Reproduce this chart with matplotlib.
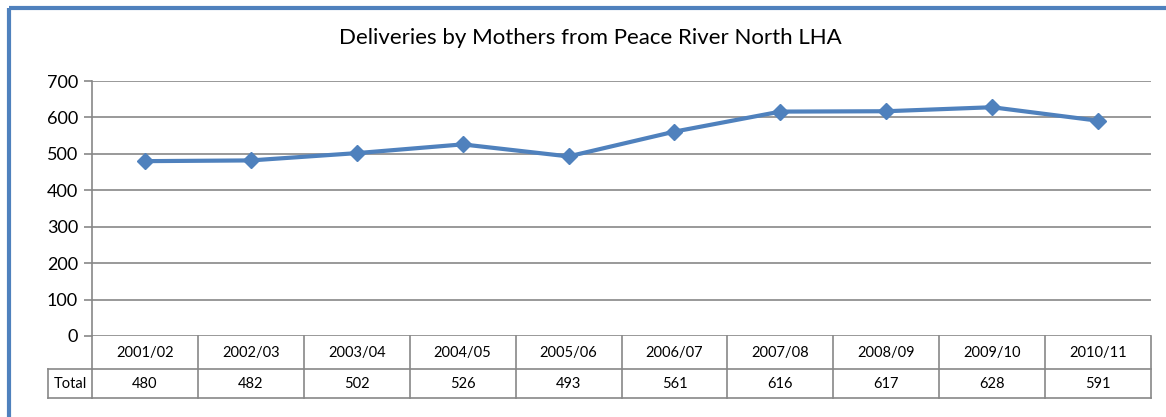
import matplotlib
matplotlib.use("Agg")
import matplotlib.pyplot as plt
from matplotlib.lines import Line2D

plt.rcParams["font.family"] = ["Lato", "DejaVu Sans"]

years = ["2001/02", "2002/03", "2003/04", "2004/05", "2005/06",
         "2006/07", "2007/08", "2008/09", "2009/10", "2010/11"]
totals = [480, 482, 502, 526, 493, 561, 616, 617, 628, 591]
yticks = [0, 100, 200, 300, 400, 500, 600, 700]

W, H = 1166, 417
fig = plt.figure(figsize=(W / 100, H / 100), dpi=100)

blue = "#4F81BD"
grid = "#878787"

# outer chart border (only top & left visible in crop)
fig.add_artist(Line2D([9 / W, 9 / W], [0, 1 - 8 / H], color=blue, lw=3,
                      transform=fig.transFigure, solid_capstyle="butt"))
fig.add_artist(Line2D([9 / W, 1], [1 - 8 / H, 1 - 8 / H], color=blue, lw=3,
                      transform=fig.transFigure, solid_capstyle="butt"))

x0, x1 = 92, 1151
ytop, ybot = 81, 336
ax = fig.add_axes([x0 / W, 1 - ybot / H, (x1 - x0) / W, (ybot - ytop) / H])
n = len(years)
xs = [i + 0.5 for i in range(n)]
ax.plot(xs, totals, color=blue, lw=3, marker="D", markersize=8, zorder=3)
ax.set_xlim(0, n)
ax.set_ylim(0, 700)
ax.set_yticks(yticks)
ax.tick_params(axis="y", length=6, width=1.2, color=grid, labelsize=13,
               pad=4)
ax.set_xticks([])
for s in ["top", "right", "bottom"]:
    ax.spines[s].set_visible(False)
ax.spines["left"].set_color(grid)
ax.spines["left"].set_linewidth(1.2)
for t in yticks:
    ax.axhline(t, color=grid, lw=1.2, zorder=1)

fig.text(590 / W, 1 - 38 / H,
         "Deliveries by Mothers from Peace River North LHA",
         ha="center", va="center", fontsize=16)

# data table under the axis
r1, r2 = 369, 398
tab = fig.add_axes([x0 / W, 1 - r2 / H, (x1 - x0) / W, (r2 - ybot) / H])
tab.set_xlim(0, n)
tab.set_ylim(r2, ybot)
tab.axis("off")
lc = dict(color=grid, lw=1.2, clip_on=False)
tab.plot([0, n], [r1, r1], **lc)
tab.plot([0, n], [r2, r2], **lc)
for i in range(n + 1):
    tab.plot([i, i], [ybot, r2], **lc)
cw = (x1 - x0) / n
left = -(x0 - 48) / cw
tab.plot([left, 0], [r1, r1], **lc)
tab.plot([left, 0], [r2, r2], **lc)
tab.plot([left, left], [r1, r2], **lc)
tab.text(left / 2, (r1 + r2) / 2, "Total", ha="center", va="center",
         fontsize=10.5, clip_on=False)
for i, (yr, v) in enumerate(zip(years, totals)):
    tab.text(i + 0.5, (ybot + r1) / 2, yr, ha="center", va="center",
             fontsize=10.5)
    tab.text(i + 0.5, (r1 + r2) / 2, str(v), ha="center", va="center",
             fontsize=10.5)

fig.savefig("out.png", dpi=100)
